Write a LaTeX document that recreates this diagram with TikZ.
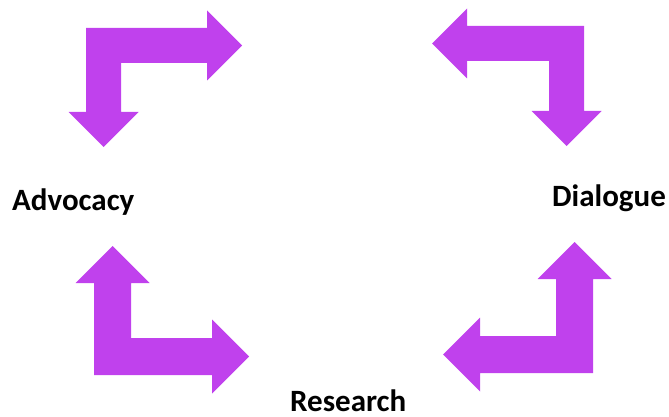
\documentclass[tikz,border=0pt]{standalone}
\usepackage{fontspec}
\setmainfont{Carlito}
\usepackage{tikz}
\definecolor{arrowpurple}{RGB}{192,65,237}

\begin{document}
\begin{tikzpicture}[x=1pt,y=-1pt,
  bentarrow/.style={fill=arrowpurple,draw=none},
  stage/.style={font=\fontsize{31}{36}\selectfont\bfseries,anchor=base west,inner sep=0pt}]
\useasboundingbox (0,0) rectangle (669,417);
\foreach \cx/\cy/\sx/\sy/\w/\h/\v in
{
86/28/1/1/35/156/119,
584/26/-1/1/35/152/120,
94/375/1/-1/37/155/129,
593/373/-1/-1/37/150/131}
\fill[bentarrow,shift={(\cx,\cy)},xscale=\sx,yscale=\sy]
  (0,0) -- ({\h-\w},0) -- ({\h-\w},{-\w/2}) -- (\h,{\w/2}) -- ({\h-\w},{1.5*\w}) -- ({\h-\w},\w)
  -- (\w,\w) -- (\w,{\v-\w}) -- ({1.5*\w},{\v-\w}) -- ({\w/2},\v) -- ({-\w/2},{\v-\w}) -- (0,{\v-\w}) -- cycle;
\node[stage] (advocacy) at (12,210) {Advocacy};
\node[stage] (dialogue) at (552,206.5) {Dialogue};
\node[stage] (research) at (290,411.5) {Research};
\end{tikzpicture}
\end{document}
